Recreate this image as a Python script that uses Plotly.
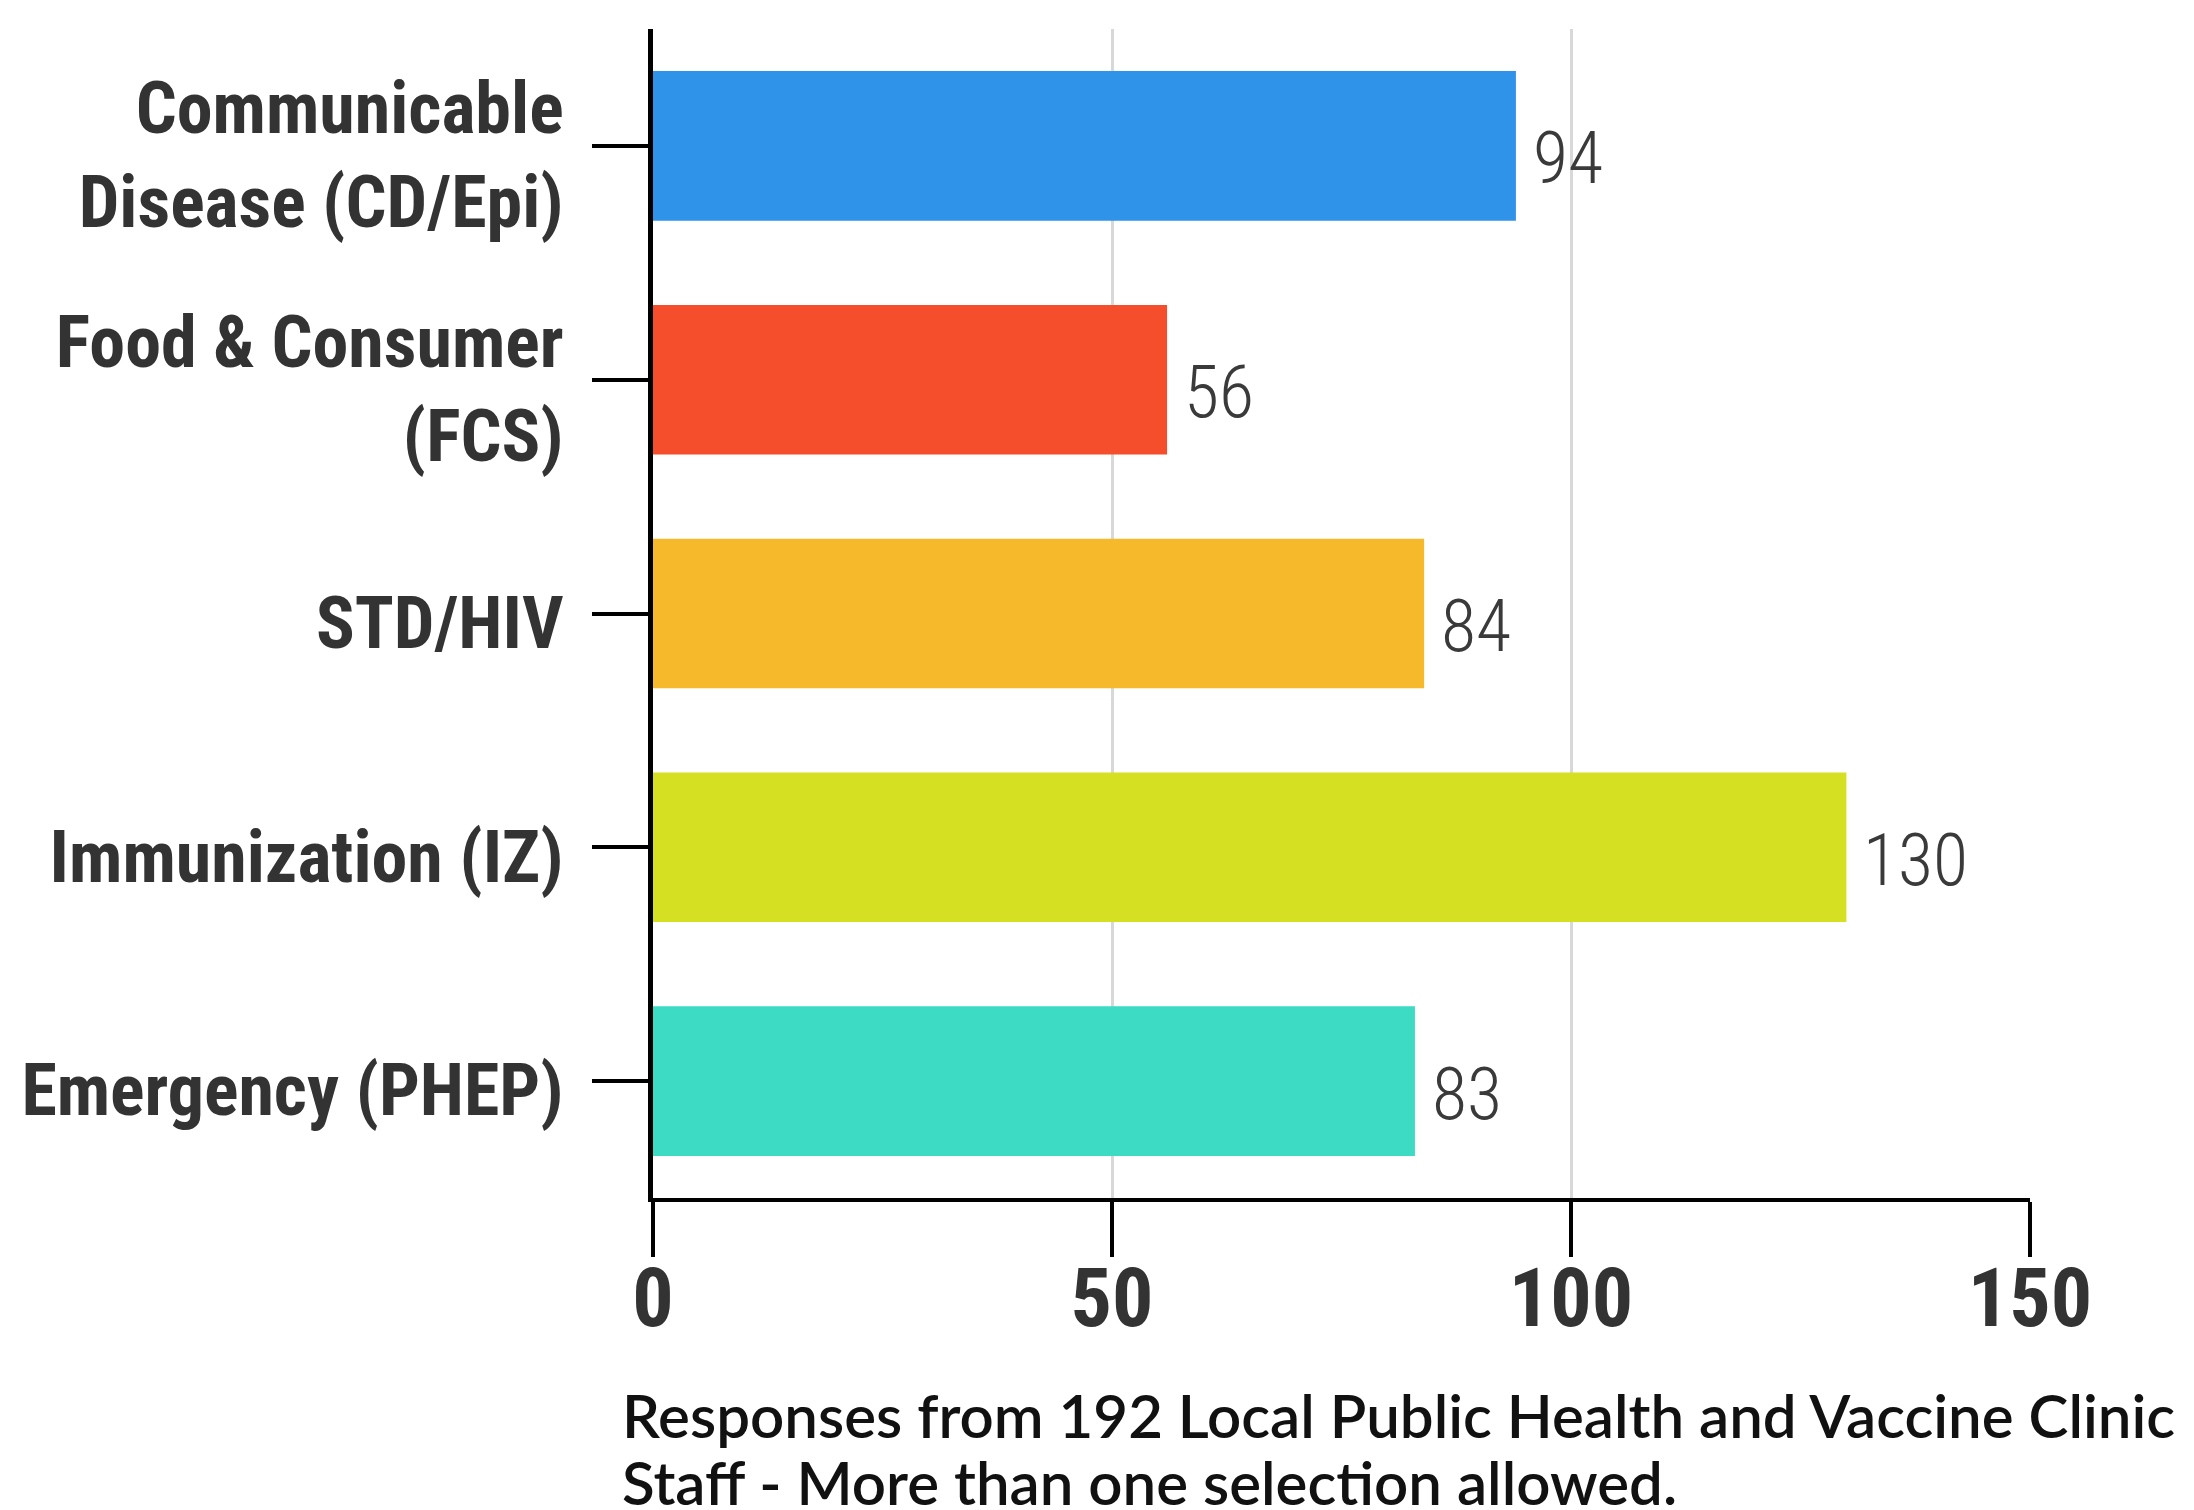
import plotly.graph_objects as go

categories = [
    "Communicable<br>Disease (CD/Epi)",
    "Food & Consumer<br>(FCS)",
    "STD/HIV",
    "Immunization (IZ)",
    "Emergency (PHEP)",
]
values = [94, 56, 84, 130, 83]
bar_colors = ["#2F94E9", "#F44E2D", "#F6B92B", "#D5E022", "#3DDBC3"]
x_ticks = [0, 50, 100, 150]
note_lines = [
    "Responses from 192 Local Public Health and Vaccine Clinic",
    "Staff - More than one selection allowed.",
]

COND = "Roboto Condensed"

fig = go.Figure()
fig.add_trace(go.Bar(
    x=values, y=categories, orientation="h",
    marker=dict(color=bar_colors, line=dict(width=0)),
    hoverinfo="x+y",
))

annotations = []
for c, v in zip(categories, values):
    annotations.append(dict(
        x=v, y=c, xref="x", yref="y", text=str(v), showarrow=False,
        xanchor="left", yanchor="middle", xshift=15, yshift=-13,
        font=dict(family=COND, size=72, color="#3A3A3A", weight=300),
    ))
for line, yy in zip(note_lines, [-0.186, -0.243]):
    annotations.append(dict(
        x=-0.024, y=yy, xref="paper", yref="paper", text=line, showarrow=False,
        xanchor="left", yanchor="middle", align="left",
        font=dict(family="Lato", size=60, color="#111111", weight=600),
    ))

fig.update_layout(
    width=2194, height=1510,
    margin=dict(l=653, r=164, t=29, b=312),
    paper_bgcolor="white", plot_bgcolor="white",
    bargap=0.36,
    showlegend=False,
    annotations=annotations,
    xaxis=dict(
        range=[0, 150], tickvals=x_ticks, ticktext=[str(t) for t in x_ticks],
        showgrid=True, gridcolor="#D8D8D8", gridwidth=3, zeroline=False,
        showline=True, linecolor="black", linewidth=4,
        ticks="outside", ticklen=55, tickwidth=4, tickcolor="black",
        ticklabelstandoff=-29,
        tickfont=dict(family=COND, size=82, color="#333333", weight="bold"),
        automargin=False, fixedrange=True,
    ),
    yaxis=dict(
        categoryorder="array", categoryarray=categories, autorange="reversed",
        showgrid=False, zeroline=False,
        showline=True, linecolor="black", linewidth=5,
        ticks="outside", ticklen=56, tickwidth=4, tickcolor="black",
        ticklabelstandoff=14, ticklabelshift=-9,
        tickfont=dict(family=COND, size=72, color="#333333", weight="bold"),
        automargin=False, fixedrange=True,
    ),
)

fig.write_html("out.html")
